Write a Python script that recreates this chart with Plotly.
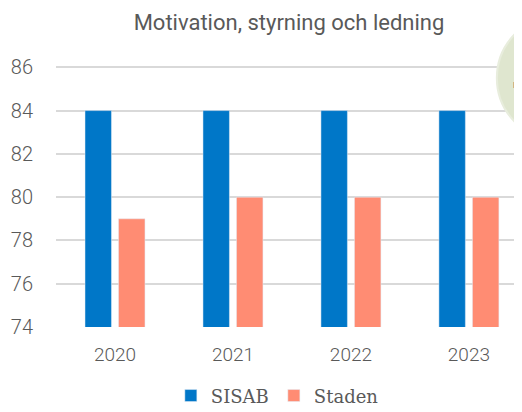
import plotly.graph_objects as go

years = ["2020", "2021", "2022", "2023"]
sisab = [84, 84, 84, 84]
staden = [79, 80, 80, 80]

fig = go.Figure()
fig.add_trace(go.Bar(x=years, y=sisab, name="SISAB", marker_color="#0077C8"))
fig.add_trace(go.Bar(x=years, y=staden, name="Staden", marker_color="#FF8C73"))

# green bubble peeking in at the top right
fig.add_shape(type="circle", xref="paper", yref="paper",
              x0=0.946, x1=1.215, y0=0.673, y1=1.125,
              fillcolor="#DFE6CF", line=dict(color="#E8EDDD", width=2), layer="above")
fig.add_annotation(text="n", xref="paper", yref="paper", x=0.998, y=0.877,
                   xanchor="right", yanchor="middle", showarrow=False,
                   font=dict(family="Roboto", size=10, color="#595959"))

fig.update_layout(
    width=514, height=404,
    margin=dict(l=48, r=0, t=42, b=85),
    paper_bgcolor="white", plot_bgcolor="white",
    title=dict(text="Motivation, styrning och ledning", x=0.5, xref="paper",
               y=0.965, yref="container", yanchor="middle",
               font=dict(family="Roboto", size=22, color="#595959")),
    barmode="group", bargap=0.432, bargroupgap=0.21,
    showlegend=True,
    legend=dict(orientation="h", x=0.475, xanchor="center",
                y=0.04, yref="container", yanchor="middle",
                font=dict(family="DejaVu Serif", size=18, color="#595959"),
                itemwidth=30),
    xaxis=dict(range=[-0.5, 3.45], showgrid=False, showline=False,
               ticks="outside", ticklen=10, tickcolor="rgba(0,0,0,0)",
               tickfont=dict(family="Roboto", size=19, color="#595959", weight=300)),
    yaxis=dict(range=[74, 86.8], dtick=2, tick0=74, showgrid=True, gridcolor="#D9D9D9",
               gridwidth=1.5, zeroline=False,
               ticks="outside", ticklen=18, tickcolor="rgba(0,0,0,0)",
               tickfont=dict(family="Roboto", size=20, color="#595959", weight=300)),
)

fig.write_html("out.html")
